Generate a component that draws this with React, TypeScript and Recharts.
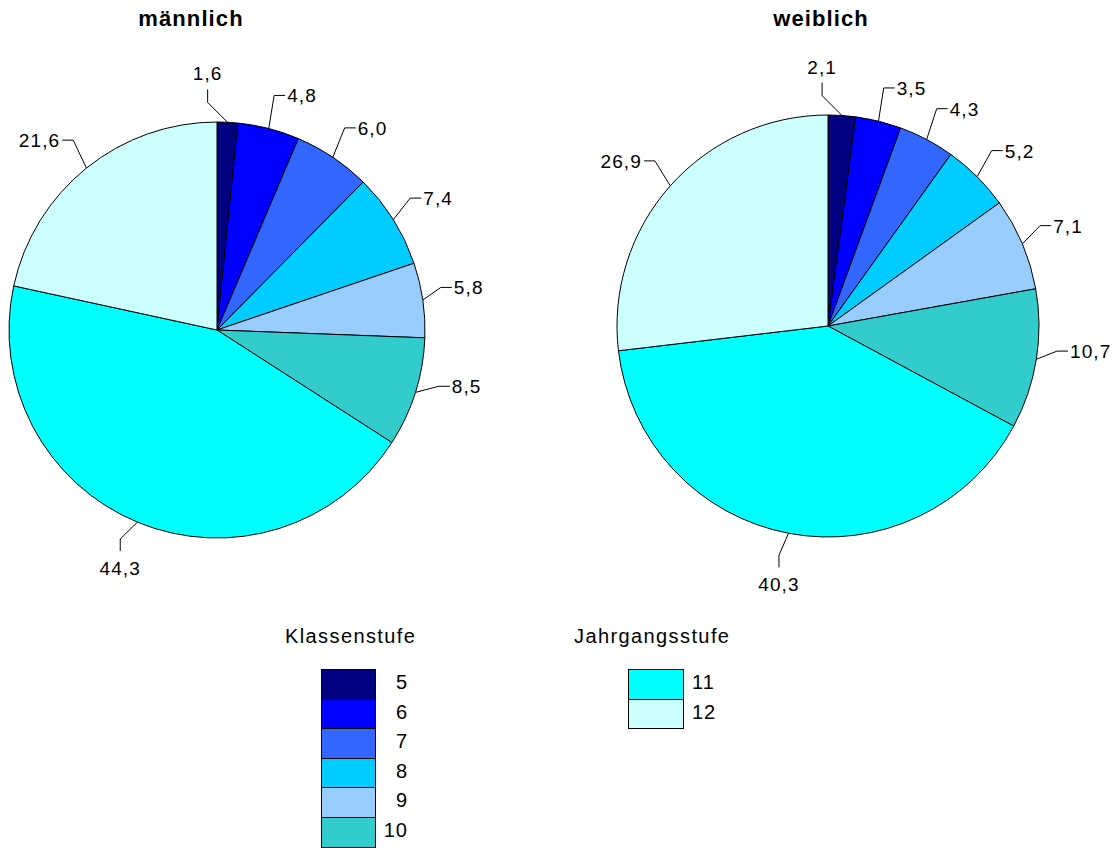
import { PieChart, Pie, Cell } from "recharts";

const grades = ["5", "6", "7", "8", "9", "10", "11", "12"];
const gradeColors = ["#000080", "#0000FF", "#3366FF", "#00CCFF", "#99CCFF", "#33CCCC", "#00FFFF", "#CCFFFF"];
const maleValues = [1.6, 4.8, 6.0, 7.4, 5.8, 8.5, 44.3, 21.6];
const femaleValues = [2.1, 3.5, 4.3, 5.2, 7.1, 10.7, 40.3, 26.9];
const klassenGrades = ["5", "6", "7", "8", "9", "10"];
const jahrgangGrades = ["11", "12"];

const FONT = "'Liberation Sans', Arial, sans-serif";
const RAD = Math.PI / 180;

const maleData = grades.map((g, i) => ({ name: g, value: maleValues[i] }));
const femaleData = grades.map((g, i) => ({ name: g, value: femaleValues[i] }));

function fmtDe(v: number) {
  return v.toFixed(1).replace(".", ",");
}

// leader line: stub out of the slice (tilted a bit upwards), then a short elbow
function renderLabel(props: any) {
  const { cx, cy, midAngle, outerRadius, value } = props;
  const cos = Math.cos(-midAngle * RAD);
  const sin = Math.sin(-midAngle * RAD);
  const x0 = cx + outerRadius * cos;
  const y0 = cy + outerRadius * sin;
  const top = sin < 0;
  const vertical = top ? Math.abs(cos) < 0.15 : Math.abs(cos) < 0.45;

  // direction of the stub
  let dx = cos;
  let dy = sin - 0.55;
  let stub = vertical ? 24 : 20 + 14 * Math.abs(sin);
  if (vertical && top) {
    // tiny slices at 12 o'clock: push the label to the left
    dx = -0.7;
    dy = -0.7;
    stub = 28;
  }
  const len = Math.hypot(dx, dy);
  const x1 = x0 + (stub * dx) / len;
  const y1 = y0 + (stub * dy) / len;

  let x2 = x1, y2 = y1, tx = x1, ty = y1, anchor: "start" | "end" | "middle" = "middle";
  if (vertical) {
    y2 = y1 + (top ? -13 : 12);
    tx = x2;
    ty = top ? y2 - 9 : y2 + 24;
  } else {
    const right = cos >= 0;
    x2 = x1 + (right ? 11 : -11);
    tx = x2 + (right ? 2 : -2);
    ty = y2 + 7;
    anchor = right ? "start" : "end";
  }

  return (
    <g key={`lbl-${props.index}`}>
      <polyline
        points={`${x0},${y0} ${x1},${y1} ${x2},${y2}`}
        fill="none"
        stroke="#000"
        strokeWidth={1}
      />
      <text
        x={tx}
        y={ty}
        textAnchor={anchor}
        fontFamily={FONT}
        fontSize={19}
        letterSpacing={1.1}
        fill="#000"
      >
        {fmtDe(value)}
      </text>
    </g>
  );
}

const titleStyle: React.CSSProperties = {
  position: "absolute",
  top: 6,
  fontFamily: FONT,
  fontWeight: "bold",
  fontSize: 22,
  letterSpacing: 1.1,
  textAlign: "center",
  width: 200,
};

const legendTitle: React.CSSProperties = {
  position: "absolute",
  top: 625,
  fontFamily: FONT,
  fontSize: 20,
  letterSpacing: 1.4,
  whiteSpace: "nowrap",
};

export default function App() {
  return (
    <div
      style={{
        position: "absolute",
        left: 0,
        top: 0,
        width: 1115,
        height: 848,
        background: "#fff",
        fontFamily: FONT,
      }}
    >
      <div style={{ ...titleStyle, left: 91 }}>männlich</div>
      <div style={{ ...titleStyle, left: 721 }}>weiblich</div>

      <div style={{ position: "absolute", left: 0, top: 0 }}>
        <PieChart width={1115} height={620} margin={{ top: 0, right: 0, bottom: 0, left: 0 }}>
          <Pie
            data={maleData}
            dataKey="value"
            cx={217}
            cy={330}
            outerRadius={208}
            startAngle={90}
            endAngle={-270}
            stroke="#000"
            strokeWidth={1}
            labelLine={false}
            label={renderLabel}
            isAnimationActive={false}
          >
            {maleData.map((d, i) => (
              <Cell key={d.name} fill={gradeColors[i]} />
            ))}
          </Pie>
          <Pie
            data={femaleData}
            dataKey="value"
            cx={828}
            cy={326}
            outerRadius={211}
            startAngle={90}
            endAngle={-270}
            stroke="#000"
            strokeWidth={1}
            labelLine={false}
            label={renderLabel}
            isAnimationActive={false}
          >
            {femaleData.map((d, i) => (
              <Cell key={d.name} fill={gradeColors[i]} />
            ))}
          </Pie>
        </PieChart>
      </div>

      {/* Legend: Klassenstufe */}
      <div style={{ ...legendTitle, left: 285 }}>Klassenstufe</div>
      {klassenGrades.map((g, i) => (
        <div key={g}>
          <div
            style={{
              position: "absolute",
              left: 321,
              top: 669 + i * 29.6,
              width: 53,
              height: 28.6,
              background: gradeColors[i],
              border: "1px solid #000",
            }}
          />
          <div
            style={{
              position: "absolute",
              left: 367,
              width: 41,
              textAlign: "right",
              top: 671 + i * 29.6,
              fontSize: 20,
              letterSpacing: 1,
            }}
          >
            {g}
          </div>
        </div>
      ))}

      {/* Legend: Jahrgangsstufe */}
      <div style={{ ...legendTitle, left: 574 }}>Jahrgangsstufe</div>
      {jahrgangGrades.map((g, i) => (
        <div key={g}>
          <div
            style={{
              position: "absolute",
              left: 628,
              top: 669 + i * 29.6,
              width: 54,
              height: 28.6,
              background: gradeColors[6 + i],
              border: "1px solid #000",
            }}
          />
          <div
            style={{
              position: "absolute",
              left: 692,
              top: 671 + i * 29.6,
              fontSize: 20,
              letterSpacing: 1,
            }}
          >
            {g}
          </div>
        </div>
      ))}
    </div>
  );
}
